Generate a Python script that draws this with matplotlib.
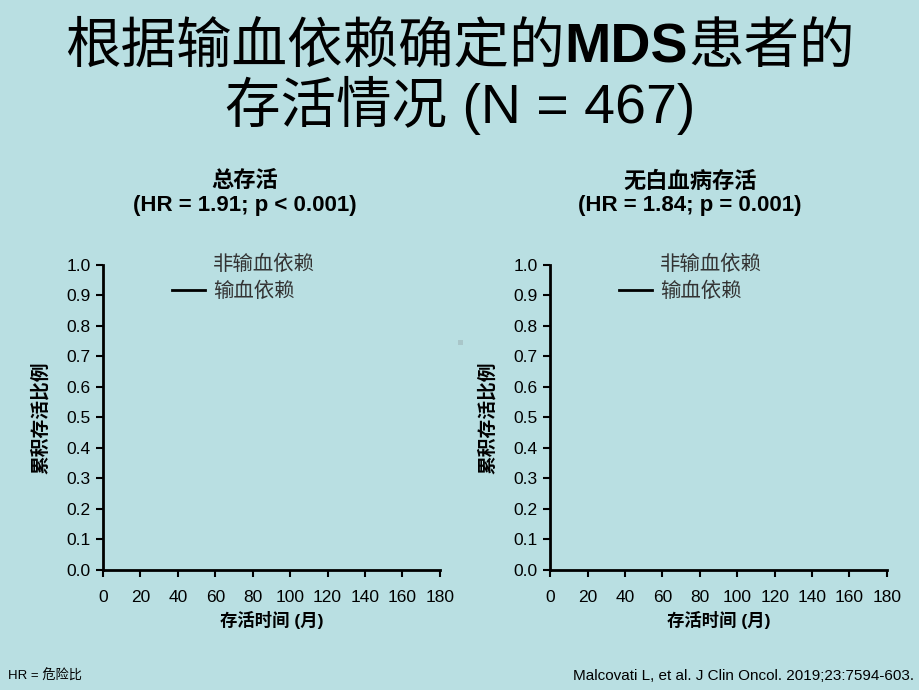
import matplotlib
matplotlib.use("Agg")
import matplotlib.pyplot as plt
from matplotlib.lines import Line2D
from matplotlib.patches import Rectangle
from matplotlib.offsetbox import TextArea, HPacker, AnchoredOffsetbox

plt.rcParams['font.family'] = ['Liberation Sans', 'Noto Sans CJK SC', 'DejaVu Sans']

BG = '#b9dfe2'

title_parts = ["根据输血依赖确定的", "MDS", "患者的"]
title_line2 = "存活情况 (N = 467)"
panel_titles = ["总存活\n(HR = 1.91; p < 0.001)", "无白血病存活\n(HR = 1.84; p = 0.001)"]
series_labels = ["非输血依赖", "输血依赖"]
# Curves are not visible in the reference: empty series
months_non_td = []
surv_non_td = []
months_td = []
surv_td = []
xticks = list(range(0, 181, 20))
yticks = [i / 10 for i in range(11)]
xlabel = "存活时间 (月)"
ylabel = "累积存活比例"
footer_left = "HR = 危险比"
footer_right = "Malcovati L, et al. J Clin Oncol. 2019;23:7594-603."

fig = plt.figure(figsize=(9.2, 6.9), dpi=100, facecolor=BG)

TS = 40
cjk = ['Noto Sans CJK SC', 'Liberation Sans']
boxes = [TextArea(title_parts[0], textprops=dict(fontsize=TS, family=cjk)),
         TextArea(title_parts[1], textprops=dict(fontsize=TS, family=['Liberation Sans'], fontweight='bold')),
         TextArea(title_parts[2], textprops=dict(fontsize=TS, family=cjk))]
pack = HPacker(children=boxes, align='baseline', pad=0, sep=0)
anch = AnchoredOffsetbox(loc='center', child=pack, frameon=False, pad=0, borderpad=0,
                         bbox_to_anchor=(0.5, 0.932), bbox_transform=fig.transFigure)
fig.add_artist(anch)
fig.text(0.5, 0.847, title_line2, ha='center', va='center', fontsize=TS,
         family=['Liberation Sans', 'Noto Sans CJK SC'])

axes_pos = [[0.112, 0.174, 0.366, 0.442], [0.598, 0.174, 0.366, 0.442]]
title_x = [0.266, 0.750]
for i, pos in enumerate(axes_pos):
    ax = fig.add_axes(pos)
    ax.set_facecolor(BG)
    ax.plot(months_non_td, surv_non_td, color=BG, lw=2)
    ax.plot(months_td, surv_td, color='black', lw=2)
    ax.set_xlim(0, 180)
    ax.set_ylim(0, 1.0)
    ax.set_xticks(xticks)
    ax.set_yticks(yticks)
    ax.set_yticklabels([f"{v:.1f}" for v in yticks])
    for s in ['top', 'right']:
        ax.spines[s].set_visible(False)
    for s in ['left', 'bottom']:
        ax.spines[s].set_linewidth(2)
        ax.spines[s].set_color('black')
    ax.tick_params(direction='out', length=5, width=1.5, labelsize=12.5,
                   colors='black')
    ax.tick_params(axis='x', pad=9.5)
    ax.tick_params(axis='y', pad=4)
    ax.set_xlabel(xlabel, fontsize=12.5, fontweight='bold', labelpad=4)
    ax.set_ylabel(ylabel, fontsize=13.5, fontweight='bold', labelpad=12)
    handles = [Line2D([], [], color='none', lw=2), Line2D([], [], color='black', lw=2)]
    ax.legend(handles, series_labels, loc='upper left', bbox_to_anchor=(0.205, 1.035),
              frameon=False, handlelength=1.6, handletextpad=0.4,
              labelspacing=0.3, borderpad=0, borderaxespad=0,
              labelcolor='#333333', prop={'family': ['Noto Sans CJK SC'], 'size': 14.7})
    fig.text(title_x[i], 0.719, panel_titles[i], ha='center', va='center',
             fontsize=16, fontweight='bold', linespacing=1.18,
             family=['Liberation Sans', 'Noto Sans CJK SC'])

fig.patches.append(Rectangle((0.4975, 0.500), 0.0055, 0.0072, transform=fig.transFigure,
                             facecolor='#a9c6c9', edgecolor='none'))

fig.text(0.009, 0.020, footer_left, ha='left', va='center', fontsize=9.5,
         family=['Liberation Sans Narrow', 'Liberation Sans', 'Noto Sans CJK SC'])
fig.text(0.994, 0.020, footer_right, ha='right', va='center', fontsize=11,
         family=['Liberation Sans Narrow', 'Liberation Sans', 'Noto Sans CJK SC'])

fig.savefig('out.png', dpi=100, facecolor=BG)
